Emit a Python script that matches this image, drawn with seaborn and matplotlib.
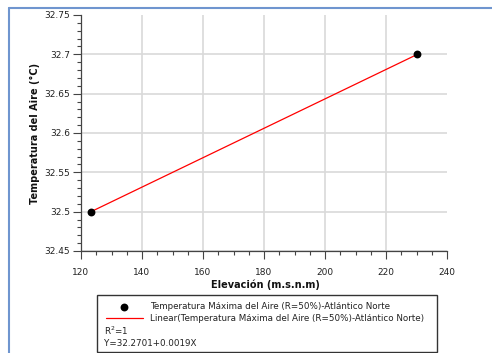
import matplotlib
matplotlib.use("Agg")
import matplotlib.pyplot as plt
import seaborn as sns
import pandas as pd
import numpy as np
from matplotlib.patches import Rectangle
from matplotlib.ticker import MultipleLocator

# ---- data ----
elevacion = [123.3, 230.3]
temperatura = [32.50, 32.70]
serie_label = "Temperatura Máxima del Aire (R=50%)-Atlántico Norte"
linea_label = "Linear(Temperatura Máxima del Aire (R=50%)-Atlántico Norte)"
r2_text = "R$^2$=1"
eq_text = "Y=32.2701+0.0019X"
x_ticks = [120, 140, 160, 180, 200, 220, 240]
y_ticks = [32.45, 32.5, 32.55, 32.6, 32.65, 32.7, 32.75]
y_ticklabels = ["32.45", "32.5", "32.55", "32.6", "32.65", "32.7", "32.75"]

sns.set_theme(style="white")
plt.rcParams['font.family'] = ['DejaVu Sans']

df = pd.DataFrame({"x": elevacion, "y": temperatura})

fig = plt.figure(figsize=(4.92, 3.53), dpi=100)
fig.patch.set_facecolor("white")
ax = fig.add_axes([81/492, 1-251/353, (447-81)/492, (251-15)/353])

sns.regplot(data=df, x="x", y="y", ax=ax, ci=None, scatter=False, truncate=True,
            label=linea_label,
            line_kws=dict(color="red", linewidth=0.9, zorder=3))
sns.scatterplot(data=df, x="x", y="y", ax=ax, color="black", s=32,
                edgecolor="black", linewidth=0, label=serie_label, zorder=4)

ax.set_xlim(120, 240)
ax.set_ylim(32.45, 32.75)
ax.set_xticks(x_ticks)
ax.set_yticks(y_ticks)
ax.set_xticklabels([str(v) for v in x_ticks])
ax.set_yticklabels(y_ticklabels)
ax.xaxis.set_minor_locator(MultipleLocator(5))
ax.yaxis.set_minor_locator(MultipleLocator(0.01))
ax.tick_params(axis="both", which="major", direction="out", length=6, width=0.8,
               color="#444444", labelsize=6.5, labelcolor="#222222", pad=2,
               bottom=True, left=True)
ax.tick_params(axis="both", which="minor", direction="out", length=3, width=0.8,
               color="#444444", bottom=True, left=True)
ax.tick_params(axis="x", pad=6)

ax.grid(True, which="major", color="#d9d9d9", linewidth=1.2)
ax.set_axisbelow(True)
for s in ["top", "right"]:
    ax.spines[s].set_visible(False)
for s in ["left", "bottom"]:
    ax.spines[s].set_color("#444444")
    ax.spines[s].set_linewidth(0.9)

ax.set_xlabel("Elevación (m.s.n.m)", fontsize=7, fontweight="bold", color="#111111")
ax.set_ylabel("Temperatura del Aire (°C)", fontsize=7, fontweight="bold", color="#111111")
ax.xaxis.set_label_coords((265-81)/(447-81), -(280-251)/(251-15))
ax.yaxis.set_label_coords(-(81-40)/(447-81), 0.5)

fig.canvas.draw()
ax.yaxis.get_gridlines()[-1].set_visible(False)
ax.xaxis.get_gridlines()[-1].set_visible(False)

handles, labels = ax.get_legend_handles_labels()
if ax.get_legend() is not None:
    ax.get_legend().remove()
order = [labels.index(serie_label), labels.index(linea_label)]
leg = fig.legend([handles[i] for i in order], [labels[i] for i in order],
                 loc="upper left", bbox_to_anchor=(106/492, 1-302/353),
                 frameon=False, fontsize=6.3, handlelength=4.2,
                 handletextpad=0.8, labelspacing=0.35, borderpad=0,
                 borderaxespad=0)
for t in leg.get_texts():
    t.set_color("#222222")

fig.patches.append(Rectangle((97/492, 1-352/353), (437-97)/492, (352-295)/353,
                             transform=fig.transFigure, fill=False,
                             edgecolor="#333333", linewidth=1.0))
fig.text(104/492, 1-331/353, r2_text, fontsize=6.3, color="#222222", va="center")
fig.text(104/492, 1-343/353, eq_text, fontsize=6.3, color="#222222", va="center")

# outer frame (blue)
fig.add_artist(plt.Line2D([9/492, 9/492], [0, 1-8/353], transform=fig.transFigure,
                          color="#6f95cf", linewidth=1.5))
fig.add_artist(plt.Line2D([9/492, 1], [1-8/353, 1-8/353], transform=fig.transFigure,
                          color="#6f95cf", linewidth=1.5))

fig.savefig("out.png", dpi=100)
